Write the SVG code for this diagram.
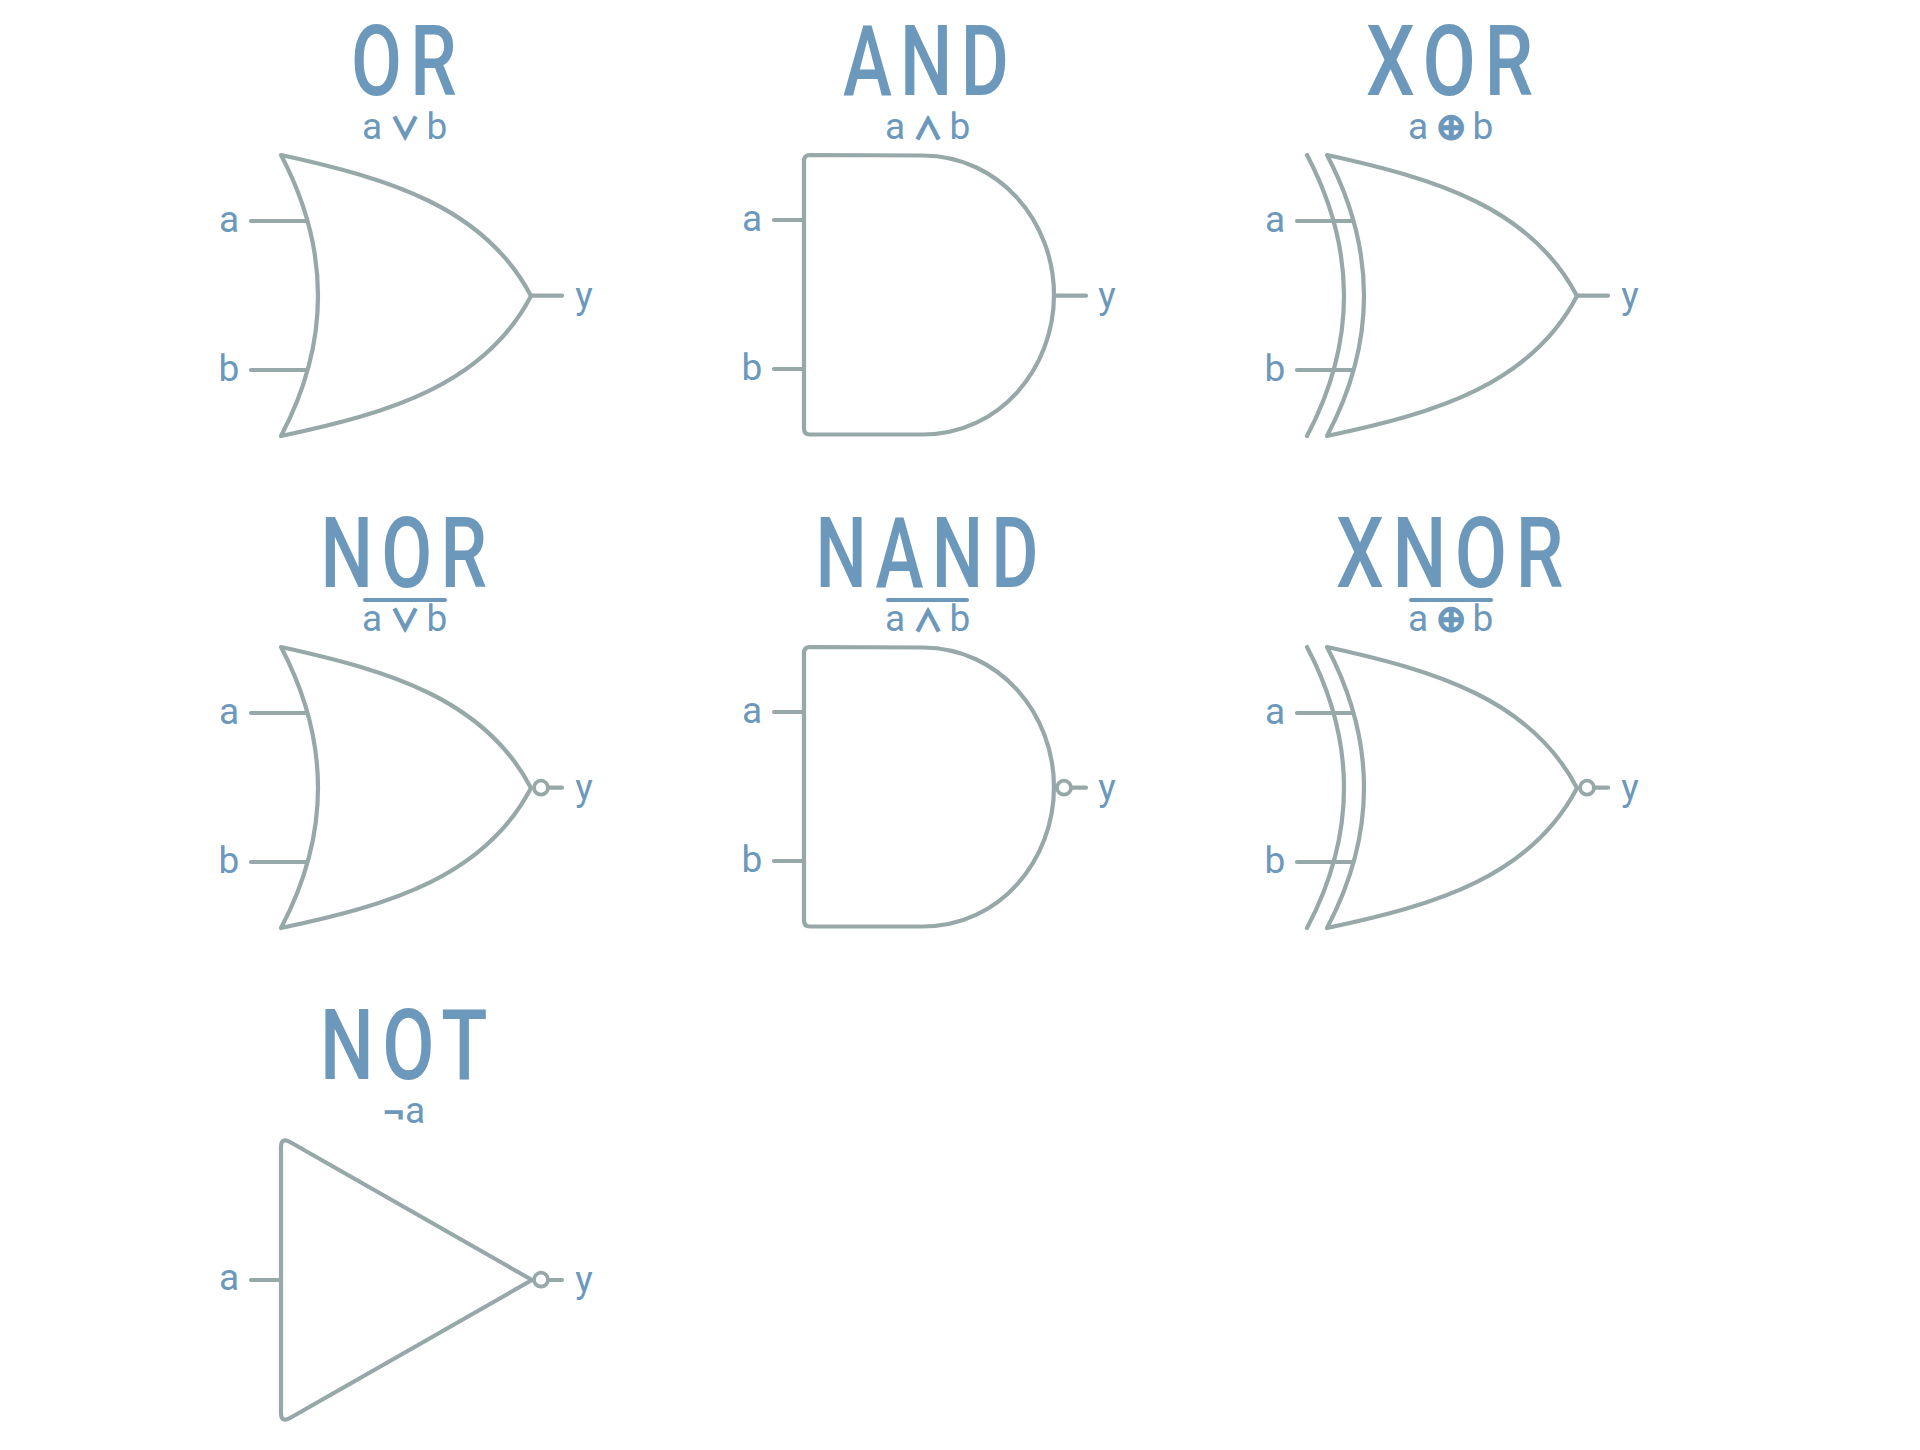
<svg xmlns="http://www.w3.org/2000/svg" xmlns:xlink="http://www.w3.org/1999/xlink" width="1920" height="1450" viewBox="0 0 1920 1450" style="background:#fff">
<style>
.w{fill:none;stroke:#97a8a8;stroke-width:4.200;stroke-linecap:round;stroke-linejoin:round}
.t{font-family:Roboto,"Liberation Sans",sans-serif;font-weight:500;font-size:98px;letter-spacing:11px;fill:#6c98bb;text-anchor:middle}
.l{font-family:Roboto,"Liberation Sans",sans-serif;font-size:37px;fill:#6c98bb;text-anchor:middle}
.y{font-family:"Noto Sans CJK SC",sans-serif;font-weight:700;font-size:30px;stroke:#6c98bb;stroke-width:1.200px}
.x{font-family:"DejaVu Sans",sans-serif;font-size:36px;stroke:#6c98bb;stroke-width:2px}
.o{fill:none;stroke:#6c98bb;stroke-width:4;stroke-linecap:round}
#bub{stroke-width:3.800}
</style>
<defs>
<path id="orb" class="w" d="M281 155C391 179 485 208 531 296C485 384 391 413 281 436Q355 296 281 155Z"/>
<path id="xb" class="w" d="M261 155Q335 296 261 436"/>
<path id="andb" class="w" d="M810 155L923 155.500C1000 156 1054 222 1054 295C1054 368 1000 434.500 923 434.500L810 434.500Q804 434.500 804 428.500V161Q804 155 810 155Z"/>
<path id="notb" class="w" d="M281 1147Q281 1137 290 1142L532 1280L290 1418Q281 1423 281 1413Z"/>
<circle id="bub" class="w" cx="541" cy="787.700" r="7"/>
</defs>
<g id="connectors" class="w">
<path d="M251 221H307M251 370H307M531 295.700H562"/>
<path d="M774 220H804M774 369H804M1054 295.700H1086"/>
<path d="M1297 221H1352M1297 370H1352M1577 295.700H1608"/>
<path d="M251 713H307M251 862H307M549 787.700H562"/>
<path d="M774 712H804M774 861H804M1072 787.700H1086"/>
<path d="M1297 713H1352M1297 862H1352M1595 787.700H1608"/>
<path d="M251 1280H281M549 1280H562"/>
</g>
<g id="or">
<use xlink:href="#orb"/>
<text class="t" x="408" y="95" textLength="114" lengthAdjust="spacingAndGlyphs">OR</text>
<text class="l" x="372" y="139">a<tspan class="y" x="405">∨</tspan><tspan x="437">b</tspan></text>
<text class="l" x="229" y="232">a</text><text class="l" x="229" y="381">b</text><text class="l" x="584" y="308">y</text>
</g>
<g id="and">
<use xlink:href="#andb"/>
<text class="t" x="930" y="95" textLength="174" lengthAdjust="spacingAndGlyphs">AND</text>
<text class="l" x="895" y="139">a<tspan class="y" x="928">∧</tspan><tspan x="960">b</tspan></text>
<text class="l" x="752" y="231">a</text><text class="l" x="752" y="380">b</text><text class="l" x="1107" y="308">y</text>
</g>
<g id="xor">
<use xlink:href="#orb" transform="translate(1046 0)"/>
<use xlink:href="#xb" transform="translate(1046 0)"/>
<text class="t" x="1454" y="95" textLength="176" lengthAdjust="spacingAndGlyphs">XOR</text>
<text class="l" x="1418" y="139">a<tspan class="x" x="1451">⊕</tspan><tspan x="1483">b</tspan></text>
<text class="l" x="1275" y="232">a</text><text class="l" x="1275" y="381">b</text><text class="l" x="1630" y="308">y</text>
</g>
<g id="nor">
<use xlink:href="#orb" transform="translate(0 492)"/>
<use xlink:href="#bub"/>
<text class="t" x="408" y="587" textLength="175" lengthAdjust="spacingAndGlyphs">NOR</text>
<line class="o" x1="365" y1="600" x2="445" y2="600"/>
<text class="l" x="372" y="631">a<tspan class="y" x="405">∨</tspan><tspan x="437">b</tspan></text>
<text class="l" x="229" y="724">a</text><text class="l" x="229" y="873">b</text><text class="l" x="584" y="800">y</text>
</g>
<g id="nand">
<use xlink:href="#andb" transform="translate(0 492)"/>
<use xlink:href="#bub" transform="translate(523 0)"/>
<text class="t" x="931" y="587" textLength="231" lengthAdjust="spacingAndGlyphs">NAND</text>
<line class="o" x1="888" y1="600" x2="967" y2="600"/>
<text class="l" x="895" y="631">a<tspan class="y" x="928">∧</tspan><tspan x="960">b</tspan></text>
<text class="l" x="752" y="723">a</text><text class="l" x="752" y="872">b</text><text class="l" x="1107" y="800">y</text>
</g>
<g id="xnor">
<use xlink:href="#orb" transform="translate(1046 492)"/>
<use xlink:href="#xb" transform="translate(1046 492)"/>
<use xlink:href="#bub" transform="translate(1046 0)"/>
<text class="t" x="1454" y="587" textLength="236" lengthAdjust="spacingAndGlyphs">XNOR</text>
<line class="o" x1="1411" y1="600" x2="1491" y2="600"/>
<text class="l" x="1418" y="631">a<tspan class="x" x="1451">⊕</tspan><tspan x="1483">b</tspan></text>
<text class="l" x="1275" y="724">a</text><text class="l" x="1275" y="873">b</text><text class="l" x="1630" y="800">y</text>
</g>
<g id="not">
<use xlink:href="#notb"/>
<use xlink:href="#bub" transform="translate(0 492)"/>
<text class="t" x="408" y="1079" textLength="176" lengthAdjust="spacingAndGlyphs">NOT</text>
<text class="l" y="1123"><tspan x="394" dy="5" font-size="44" font-weight="700">¬</tspan><tspan x="415" dy="-5">a</tspan></text>
<text class="l" x="229" y="1290">a</text><text class="l" x="584" y="1292">y</text>
</g>
</svg>
